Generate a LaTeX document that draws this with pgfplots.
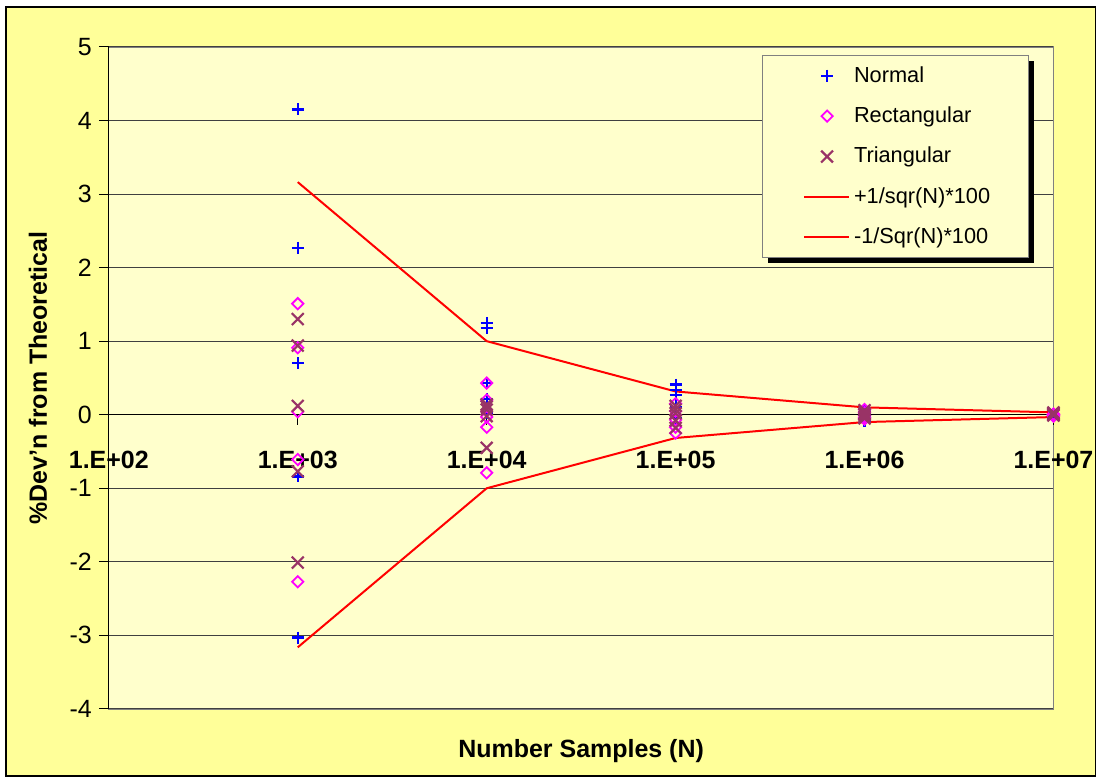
\documentclass[border=0pt]{standalone}
\usepackage{pgfplots}
\pgfplotsset{compat=1.18}
\usepackage{fontspec}
\setmainfont{Liberation Sans}
\definecolor{outerbg}{HTML}{FFFF99}
\definecolor{plotbg}{HTML}{FFFFCC}
\definecolor{tri}{HTML}{993366}
\definecolor{frame}{HTML}{808080}
\definecolor{rect}{HTML}{FF00FF}
\definecolor{norm}{HTML}{0000FF}
\definecolor{bound}{HTML}{FF0000}
\newcommand\tickfont{\fontsize{12.5}{15}\selectfont}
\newcommand\legfont{\fontsize{10.9}{13}\selectfont}
\pgfplotsset{
  marklegend/.style={legend image code/.code={\path[draw=none,fill=none] (0pt,-1pt) rectangle (46pt,1pt);
    \draw[##1] plot[only marks] coordinates {(32.5pt,0pt)};}},
  linelegend/.style={legend image code/.code={\path[draw=none,fill=none] (0pt,-1pt) rectangle (46pt,1pt);
    \draw[##1,fill=none] (21pt,0pt) -- (43.5pt,0pt);}},
}
\begin{document}
\begin{tikzpicture}
\path (-54.5pt,-36pt) rectangle (495.5pt,355pt);
\begin{axis}[
  set layers=standard, clip=false,
  scale only axis, width=473pt, height=331.5pt,
  xmode=log, xmin=1e2, xmax=1e7, ymin=-4, ymax=5,
  axis x line=middle, axis y line=left,
  hide obscured x ticks=false,
  axis line style={-, black, line width=0.5pt},
  xtick={1e2,1e3,1e4,1e5,1e6,1e7},
  xticklabels={1.E+02,1.E+03,1.E+04,1.E+05,1.E+06,1.E+07},
  xminorticks=false,
  ytick={-4,-3,-2,-1,0,1,2,3,4,5},
  yticklabels={-4,-3,-2,-1,0,1,2,3,4,5},
  tick align=outside, major tick length=5pt,
  tick style={black, line width=0.5pt},
  xticklabel style={font=\tickfont\bfseries, anchor=center, yshift=-17.5pt},
  yticklabel style={font=\tickfont, anchor=east},
  ymajorgrids, major grid style={black!75, line width=0.5pt},
  xlabel={Number Samples (N)},
  ylabel={\%Dev'n from Theoretical},
  xlabel style={font=\tickfont\bfseries, at={(axis description cs:0.5,-0.0633)}, anchor=center},
  ylabel style={font=\tickfont\bfseries, at={(axis description cs:-0.075,0.5)}, anchor=center},
  legend cell align=left,
  legend style={at={(rel axis cs:0.691,0.988)}, anchor=north west,
    fill=plotbg, draw=frame, line width=0.6pt,
    inner xsep=0pt, inner ysep=0pt, row sep=0pt, column sep=0pt,
    nodes={inner sep=0pt, minimum height=20.25pt, text width=87.5pt, align=left, font=\legfont}},
]
\begin{pgfonlayer}{axis background}
\filldraw[fill=outerbg, draw=black, line width=0.75pt]
  ([shift={(-51.5pt,-33.5pt)}]rel axis cs:0,0) rectangle ([shift={(21pt,20pt)}]rel axis cs:1,1);
\filldraw[fill=plotbg, draw=frame, line width=0.6pt] (rel axis cs:0,0) rectangle (rel axis cs:1,1);
\end{pgfonlayer}
\fill[black] ([shift={(3pt,-3pt)}]rel axis cs:0.691,0.988) rectangle ([shift={(136.5pt,-104.25pt)}]rel axis cs:0.691,0.988);
\addplot[marklegend, only marks, mark=+, mark size=3pt, norm, line width=1.1pt] coordinates {
(1e3,4.15)(1e3,2.27)(1e3,0.70)(1e3,-0.84)(1e3,-3.03)
(1e4,1.25)(1e4,1.18)(1e4,0.43)(1e4,0.21)(1e4,0.02)
(1e5,0.41)(1e5,0.34)(1e5,0.27)(1e5,0.10)(1e5,-0.05)
(1e6,0.05)(1e6,0.02)(1e6,-0.02)(1e6,-0.05)(1e6,-0.08)
(1e7,0.01)(1e7,0.00)(1e7,-0.01)(1e7,0.005)(1e7,-0.005)
};
\addlegendentry{Normal}
\addplot[marklegend, only marks, mark=square, mark size=2pt, mark options={rotate=45}, rect, line width=0.9pt] coordinates {
(1e3,1.51)(1e3,0.91)(1e3,0.04)(1e3,-0.61)(1e3,-2.27)
(1e4,0.43)(1e4,0.20)(1e4,-0.03)(1e4,-0.17)(1e4,-0.79)
(1e5,0.15)(1e5,0.05)(1e5,-0.07)(1e5,-0.17)(1e5,-0.25)
(1e6,0.07)(1e6,0.03)(1e6,-0.01)(1e6,-0.04)(1e6,-0.06)
(1e7,0.01)(1e7,-0.02)(1e7,0.00)(1e7,-0.01)(1e7,0.005)
};
\addlegendentry{Rectangular}
\addplot[marklegend, only marks, mark=x, mark size=4.2pt, tri, line width=1.1pt] coordinates {
(1e3,1.30)(1e3,0.94)(1e3,0.12)(1e3,-0.77)(1e3,-2.01)
(1e4,0.14)(1e4,0.11)(1e4,0.07)(1e4,-0.02)(1e4,-0.45)
(1e5,0.12)(1e5,0.07)(1e5,0.02)(1e5,-0.08)(1e5,-0.18)
(1e6,0.06)(1e6,0.02)(1e6,0.00)(1e6,-0.03)(1e6,-0.05)
(1e7,0.03)(1e7,0.01)(1e7,-0.01)(1e7,0.02)(1e7,0.00)
};
\addlegendentry{Triangular}
\addplot[linelegend, bound, line width=1pt, no marks] coordinates {
(1e3,3.1623)(1e4,1.0)(1e5,0.3162)(1e6,0.1)(1e7,0.0316)
};
\addlegendentry{+1/sqr(N)*100}
\addplot[linelegend, bound, line width=1pt, no marks] coordinates {
(1e3,-3.1623)(1e4,-1.0)(1e5,-0.3162)(1e6,-0.1)(1e7,-0.0316)
};
\addlegendentry{-1/Sqr(N)*100}
\end{axis}
\end{tikzpicture}
\end{document}
